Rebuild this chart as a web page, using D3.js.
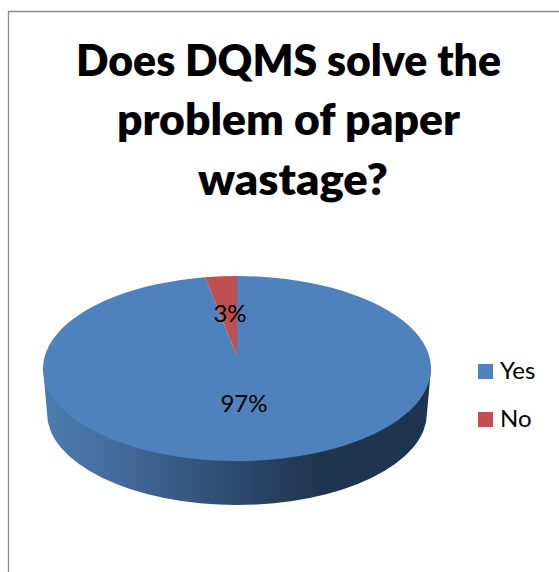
<!DOCTYPE html>
<html><head><meta charset="utf-8">
<script src="https://cdnjs.cloudflare.com/ajax/libs/d3/7.8.5/d3.min.js"></script>
<style>html,body{margin:0;padding:0;background:#fff}svg{display:block}text{font-family:Lato,"Open Sans",sans-serif;fill:#000}</style>
</head><body><svg id="c" width="559" height="572"></svg>
<script>
const categories = ["Yes", "No"];
const seriesValues = [97, 3];
const labels = ["97%", "3%"];
const titleLines = ["Does DQMS solve the", "problem of paper", "wastage?"];
const colors = ["#4f81bd", "#c0504d"];
const sideStops = [[0,"#4d7cb0"],[0.2,"#426b9a"],[0.45,"#304f75"],[0.6,"#263f5e"],[0.72,"#1f344e"],[1,"#1f344e"]];

const W = 559, H = 572;
const cx = 237, cy = 368.5, rx = 194, ry = 92.5, apexY = 356;
const rearFore = 0.88; // foreshortening of the rear slice in the tilted view
const svg = d3.select("#c");

svg.append("path").attr("d", `M8.5 572V11.5H559`).attr("fill","none").attr("stroke","#8c8c8c").attr("stroke-width",1.3);

const titleX = [76,117,198], titleLen = [425,343,190], titleY = [76,135,195];
titleLines.forEach((t,i)=> svg.append("text").attr("x",titleX[i]).attr("y",titleY[i])
  .attr("textLength",titleLen[i]).attr("lengthAdjust","spacingAndGlyphs")
  .attr("font-size",44).attr("font-weight",800).text(t));

const grad = svg.append("defs").append("linearGradient").attr("id","side")
  .attr("gradientUnits","userSpaceOnUse").attr("x1",43).attr("x2",431).attr("y1",0).attr("y2",0);
sideStops.forEach(s=>grad.append("stop").attr("offset",s[0]).attr("stop-color",s[1]));

const by = 413, brx = 190, bry = 92;
svg.append("path").attr("fill","url(#side)")
  .attr("d",`M${cx-rx} ${cy} L${cx-brx} ${by} A${brx} ${bry} 0 0 0 ${cx+brx} ${by} L${cx+rx} ${cy} Z`);

const pie = d3.pie().sort(null).value(d=>d)(seriesValues);
const view = a => 2*Math.PI - (2*Math.PI - a)*rearFore;
const pt = a => [cx + rx*Math.sin(a), cy - ry*Math.cos(a)];
pie.forEach((p,i)=>{
  const a0 = i===0 ? p.startAngle : view(p.startAngle);
  const a1 = i===0 ? view(p.endAngle - (p.endAngle-pie[1].startAngle)) : p.endAngle;
  const [x0,y0] = pt(a0), [x1,y1] = pt(a1);
  const large = a1-a0 > Math.PI ? 1 : 0;
  svg.append("path").attr("d",`M${cx} ${apexY} L${x0} ${y0} A${rx} ${ry} 0 ${large} 1 ${x1} ${y1} Z`).attr("fill",colors[i]);
});

const labelPos = [[244,412],[230,322]];
labels.forEach((t,i)=> svg.append("text").attr("x",labelPos[i][0]).attr("y",labelPos[i][1])
  .attr("text-anchor","middle").attr("font-size",24).text(t));

const ly = d3.scalePoint().domain(categories).range([364,412]);
categories.forEach((c,i)=>{
  svg.append("rect").attr("x",478).attr("y",ly(c)).attr("width",15).attr("height",15).attr("fill",colors[i]);
  svg.append("text").attr("x",500).attr("y",ly(c)+14.5).attr("font-size",24).text(c);
});
</script></body></html>
